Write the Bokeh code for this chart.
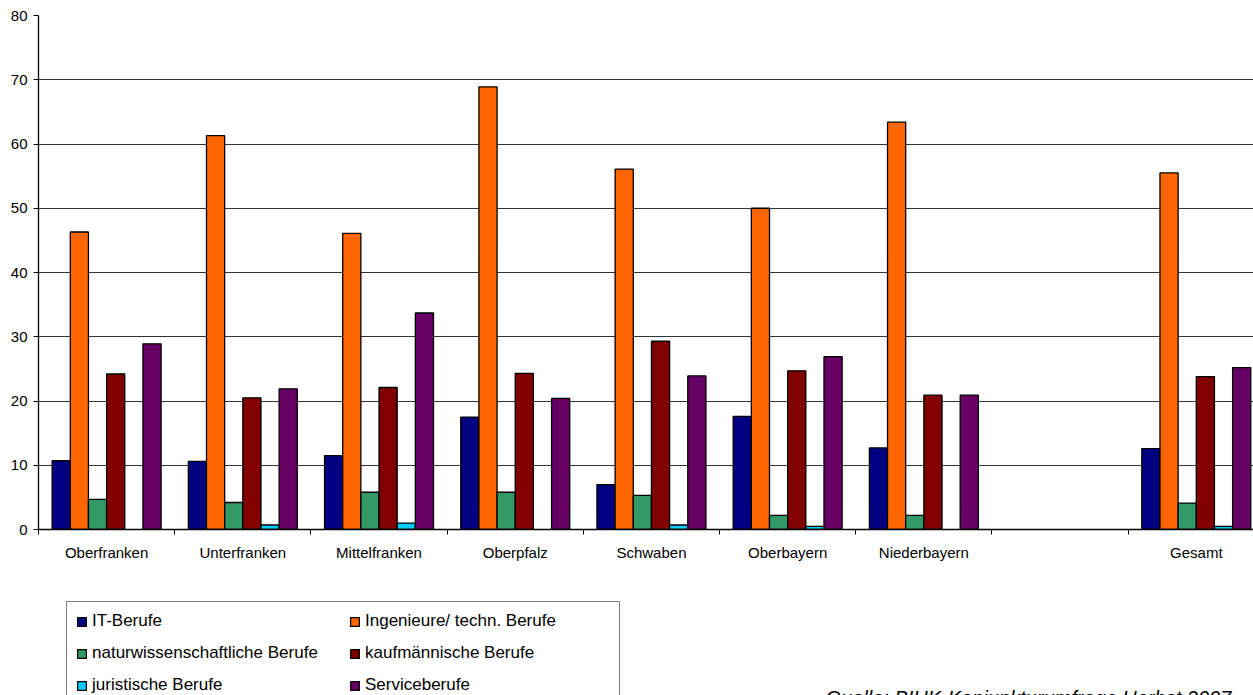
from bokeh.plotting import figure
from bokeh.layouts import column
from bokeh.models import (Range1d, FixedTicker, Legend, LegendItem, Label,
                          ColumnDataSource, CustomJSTickFormatter)
from bokeh.embed import file_html
from bokeh.resources import INLINE

# ---------------- data ----------------
categories = ["Oberfranken", "Unterfranken", "Mittelfranken", "Oberpfalz",
              "Schwaben", "Oberbayern", "Niederbayern", "", "Gesamt"]

series_names = ["IT-Berufe", "Ingenieure/ techn. Berufe",
                "naturwissenschaftliche Berufe", "kaufmännische Berufe",
                "juristische Berufe", "Serviceberufe"]

it_berufe     = [10.7, 10.6, 11.5, 17.5, 7.0, 17.6, 12.7, None, 12.6]
ingenieure    = [46.3, 61.3, 46.1, 68.9, 56.1, 50.0, 63.4, None, 55.5]
naturwiss     = [4.7, 4.2, 5.8, 5.8, 5.3, 2.2, 2.2, None, 4.1]
kaufmaennisch = [24.2, 20.5, 22.1, 24.3, 29.3, 24.7, 20.9, None, 23.8]
juristisch    = [None, 0.7, 1.0, None, 0.7, 0.5, None, None, 0.5]
service       = [28.9, 21.9, 33.7, 20.4, 23.9, 26.9, 20.9, None, 25.2]

y_ticks = [0, 10, 20, 30, 40, 50, 60, 70, 80]
source_text = "Quelle: BIHK-Konjunkturumfrage Herbst 2007"

# ---------------- styles ----------------
colors = ["#000080", "#FF6600", "#339966", "#800000", "#00CCFF", "#660066"]
FONT = "Liberation Sans"

all_series = [it_berufe, ingenieure, naturwiss, kaufmaennisch, juristisch, service]
n_series = len(all_series)
group_width = 0.8
bar_w = group_width / n_series

p = figure(width=1253, height=580,
           x_range=Range1d(0, 8.92), y_range=Range1d(0, 80),
           output_backend="svg", toolbar_location=None,
           min_border_left=38, min_border_right=0,
           min_border_top=15, min_border_bottom=51)
p.outline_line_color = None
p.background_fill_color = "white"

for i, (vals, col) in enumerate(zip(all_series, colors)):
    xs, tops = [], []
    for j, v in enumerate(vals):
        if v is None:
            continue
        xs.append(j + 0.5 + (i - (n_series - 1) / 2) * bar_w)
        tops.append(v)
    src = ColumnDataSource(dict(x=xs, top=tops))
    p.vbar(x="x", top="top", bottom=0, width=bar_w, source=src,
           fill_color=col, line_color="black", line_width=1.3)

# ---------------- axes ----------------
xa = p.xaxis[0]
xa.ticker = FixedTicker(ticks=[j + 0.5 for j in range(len(categories))],
                        minor_ticks=list(range(len(categories) + 1)))
xa.formatter = CustomJSTickFormatter(args=dict(names=categories),
                                     code="return names[Math.round(tick - 0.5)] || '';")
xa.major_tick_line_color = None
xa.major_tick_out = 0
xa.major_tick_in = 0
xa.minor_tick_line_color = "black"
xa.minor_tick_out = 5
xa.minor_tick_in = 0
xa.axis_line_color = "black"
xa.axis_line_width = 1.3
xa.major_label_text_font = FONT
xa.major_label_text_font_size = "15px"
xa.major_label_text_color = "black"
xa.major_label_standoff = 9

ya = p.yaxis[0]
ya.ticker = FixedTicker(ticks=y_ticks)
ya.minor_tick_line_color = None
ya.major_tick_out = 5
ya.major_tick_in = 0
ya.major_tick_line_color = "black"
ya.axis_line_color = "black"
ya.axis_line_width = 1.3
ya.major_label_text_font = FONT
ya.major_label_text_font_size = "15px"
ya.major_label_text_color = "black"
ya.major_label_standoff = 6

p.xgrid.visible = False
p.ygrid.ticker = FixedTicker(ticks=y_ticks)
p.ygrid.grid_line_color = "#333333"
p.ygrid.grid_line_width = 1

# ---------------- legend panel (second figure) ----------------
p2 = figure(width=1253, height=115, x_range=Range1d(0, 1), y_range=Range1d(0, 1),
            output_backend="svg", toolbar_location=None,
            x_axis_type=None, y_axis_type=None,
            min_border_left=0, min_border_right=0, min_border_top=0, min_border_bottom=0)
p2.outline_line_color = None
p2.xgrid.visible = False
p2.ygrid.visible = False

# legend-only renderers: a single NaN row, so nothing is drawn in the panel itself
nan = float("nan")
legend_renderers = []
for col in colors:
    r = p2.vbar(x=[nan], top=[nan], bottom=0, width=0.1,
                fill_color=col, line_color="black", line_width=1.3)
    legend_renderers.append(r)

items = [LegendItem(label=name, renderers=[r]) for name, r in zip(series_names, legend_renderers)]
legend = Legend(items=items, location=(28, -10), orientation="horizontal", ncols=2,
                border_line_color="black", border_line_width=1,
                background_fill_color="white", background_fill_alpha=1,
                label_text_font=FONT, label_text_font_size="17px",
                label_text_color="black",
                glyph_width=11, glyph_height=11, label_standoff=5,
                label_width=245, label_height=18, spacing=12,
                padding=9, margin=0)
p2.add_layout(legend)

src_label = Label(x=787, y=-2, x_units="screen", y_units="screen",
                  text=source_text, text_font=FONT, text_font_style="italic",
                  text_font_size="20px", text_color="black",
                  text_baseline="alphabetic")
p2.add_layout(src_label)

layout = column(p, p2, spacing=0)
open("out.html", "w").write(file_html(layout, INLINE))
